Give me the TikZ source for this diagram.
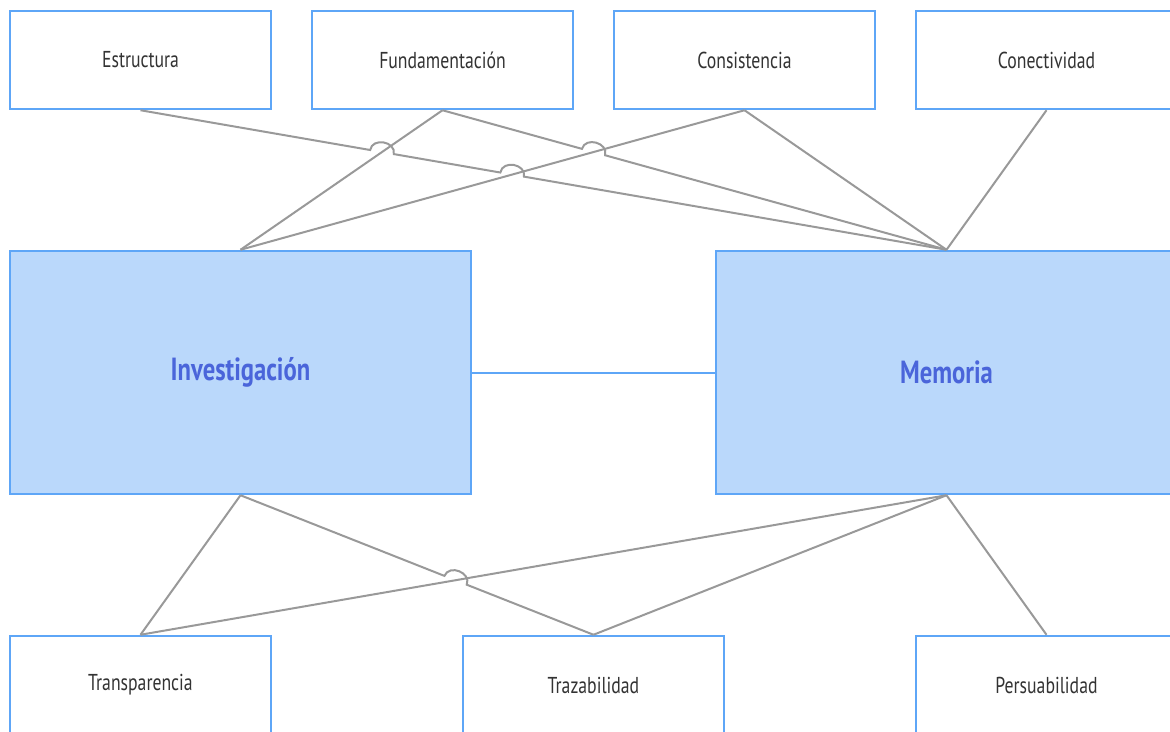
\documentclass[tikz,border=0pt]{standalone}
\usepackage{fontspec}
\setmainfont{PT Sans}[FakeStretch=0.77]
\usetikzlibrary{calc}

\definecolor{boxblue}{RGB}{94,166,247}
\definecolor{phasefill}{RGB}{186,216,251}
\definecolor{phasetext}{RGB}{74,101,218}
\definecolor{labelgray}{RGB}{51,51,51}
\definecolor{linkgray}{RGB}{153,153,153}

\newcommand{\critfont}{\fontsize{23}{27}\selectfont}
\newcommand{\phasefont}{\fontsize{32}{38}\selectfont\bfseries}
\newcommand{\hoprad}{12pt}
\newcommand{\hopctl}{13pt}
% hop over a crossing line: #1 start, #2 crossing point, #3 end
\newcommand{\hop}[3]{-- ($(#2)!\hoprad!(#1)$)
  .. controls ($(#2)!\hoprad!(#1)!\hopctl!90:(#2)$) and ($(#2)!\hoprad!(#3)!\hopctl!-90:(#2)$)
  .. ($(#2)!\hoprad!(#3)$)}

\tikzset{
  crit/.style={draw=boxblue, line width=2.5pt, fill=white, text=labelgray,
    minimum width=261pt, minimum height=98pt, inner sep=0pt, font=\critfont},
  phase/.style={crit, fill=phasefill, text=phasetext,
    minimum width=461pt, minimum height=243pt, font=\phasefont},
  link/.style={draw=linkgray, line width=2pt},
  phaselink/.style={draw=boxblue, line width=2pt},
}

\begin{document}
\begin{tikzpicture}[x=1pt, y=-1pt]
  \useasboundingbox (0,0) rectangle (1170,731);
  \clip (0,0) rectangle (1170,731);

  % criteria
  \node[crit] (estr) at (140.5,60) {Estructura};
  \node[crit] (fund) at (442.5,60) {Fundamentación};
  \node[crit] (cons) at (744.5,60) {Consistencia};
  \node[crit] (conec) at (1046.5,60) {Conectividad};

  % phases
  \node[phase] (inv) at (240.5,372.5) {Investigación};
  \node[phase] (mem) at (946.5,372.5) {Memoria};

  \node[crit] (transp) at (140.5,685) {Transparencia};
  \node[crit] (traz) at (593.5,685) {Trazabilidad};
  \node[crit] (pers) at (1046.5,685) {Persuabilidad};

  % crossings
  \coordinate (x1) at (intersection of estr.south--mem.north and fund.south--inv.north);
  \coordinate (x2) at (intersection of estr.south--mem.north and cons.south--inv.north);
  \coordinate (x3) at (intersection of fund.south--mem.north and cons.south--inv.north);
  \coordinate (x4) at (intersection of inv.south--traz.north and mem.south--transp.north);

  \draw[link] (fund.south) -- (inv.north);
  \draw[link] (cons.south) -- (inv.north);
  \draw[link] (estr.south) \hop{estr.south}{x1}{mem.north}
    \hop{estr.south}{x2}{mem.north} -- (mem.north);
  \draw[link] (fund.south) \hop{fund.south}{x3}{mem.north} -- (mem.north);
  \draw[link] (cons.south) -- (mem.north);
  \draw[link] (conec.south) -- (mem.north);

  \draw[phaselink] (inv) -- (mem);

  \draw[link] (inv.south) -- (transp.north);
  \draw[link] (mem.south) -- (transp.north);
  \draw[link] (inv.south) \hop{inv.south}{x4}{traz.north} -- (traz.north);
  \draw[link] (mem.south) -- (traz.north);
  \draw[link] (mem.south) -- (pers.north);
\end{tikzpicture}
\end{document}
